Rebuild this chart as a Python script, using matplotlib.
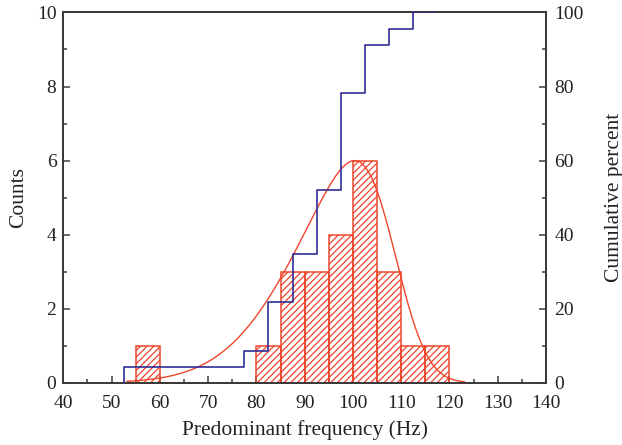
import math
import numpy as np
import matplotlib
matplotlib.use("Agg")
import matplotlib.pyplot as plt
from matplotlib.ticker import MultipleLocator

# ---- data ----
bin_lefts = [55, 60, 65, 70, 75, 80, 85, 90, 95, 100, 105, 110, 115]
counts = [1, 0, 0, 0, 0, 1, 3, 3, 4, 6, 3, 1, 1]
bin_width = 5

# fitted distribution curve (skew-normal shape)
fit_loc = 108.4
fit_scale = 17.0
fit_alpha = -3.0
fit_peak = 6.0
fit_xmin = 53.2
fit_xmax = 123.1

x_ticks = [40, 50, 60, 70, 80, 90, 100, 110, 120, 130, 140]
y_ticks = [0, 2, 4, 6, 8, 10]
p_ticks = [0, 20, 40, 60, 80, 100]

red = "#f0452b"
blue = "#2e2d96"
spine = "#3a3a3a"

plt.rcParams['font.family'] = ['Liberation Serif', 'DejaVu Serif']
plt.rcParams['hatch.color'] = red
plt.rcParams['hatch.linewidth'] = 0.9

fig = plt.figure(figsize=(6.22, 4.45), dpi=100)
ax = fig.add_axes([0.1018, 0.140, 0.776, 0.832])
ax2 = ax.twinx()

# histogram bars
ax.bar(bin_lefts, counts, width=bin_width, align='edge', facecolor='none',
       edgecolor=red, hatch='/////', linewidth=1.1, zorder=2)

# fitted curve
xs = np.linspace(fit_xmin, fit_xmax, 400)
z = (xs - fit_loc) / fit_scale
Phi = np.array([0.5 * (1 + math.erf(fit_alpha * zz / math.sqrt(2))) for zz in z])
pdf = np.exp(-z ** 2 / 2) * Phi
ys = pdf / pdf.max() * fit_peak
ax.plot(xs, ys, color=red, lw=1.0, zorder=3)

# cumulative percent (step)
cum = np.cumsum(counts) / np.sum(counts) * 100
step_x = np.array(bin_lefts, dtype=float) - bin_width / 2
step_x = np.concatenate([[step_x[0]], step_x, [step_x[-1] + bin_width]])
step_y = np.concatenate([[0], cum, [cum[-1]]])
ax2.step(step_x, step_y, where='post', color=blue, lw=1.2, zorder=4)

ax.set_xlim(40, 140)
ax.set_ylim(0, 10)
ax2.set_ylim(0, 100)
ax.set_xticks(x_ticks)
ax.set_yticks(y_ticks)
ax2.set_yticks(p_ticks)
ax.xaxis.set_minor_locator(MultipleLocator(5))
ax.yaxis.set_minor_locator(MultipleLocator(1))
ax2.yaxis.set_minor_locator(MultipleLocator(10))

for a in (ax, ax2):
    for s in a.spines.values():
        s.set_color(spine)
        s.set_linewidth(1.3)
    a.tick_params(which='both', direction='in', color=spine, width=1.1,
                  labelsize=14, labelcolor='#222222')
    a.tick_params(which='major', length=5)
    a.tick_params(which='minor', length=3)
ax.tick_params(axis='x', top=False, pad=9)
ax.tick_params(axis='y', right=False, pad=5)
ax2.tick_params(axis='y', pad=6)

ax.set_xlabel("Predominant frequency (Hz)", fontsize=15.5, color='#222222', labelpad=6)
ax.set_ylabel("Counts", fontsize=15.5, color='#222222', labelpad=6)
ax2.set_ylabel("Cumulative percent", fontsize=15.5, color='#222222', labelpad=15)

fig.savefig("out.png", dpi=100)
